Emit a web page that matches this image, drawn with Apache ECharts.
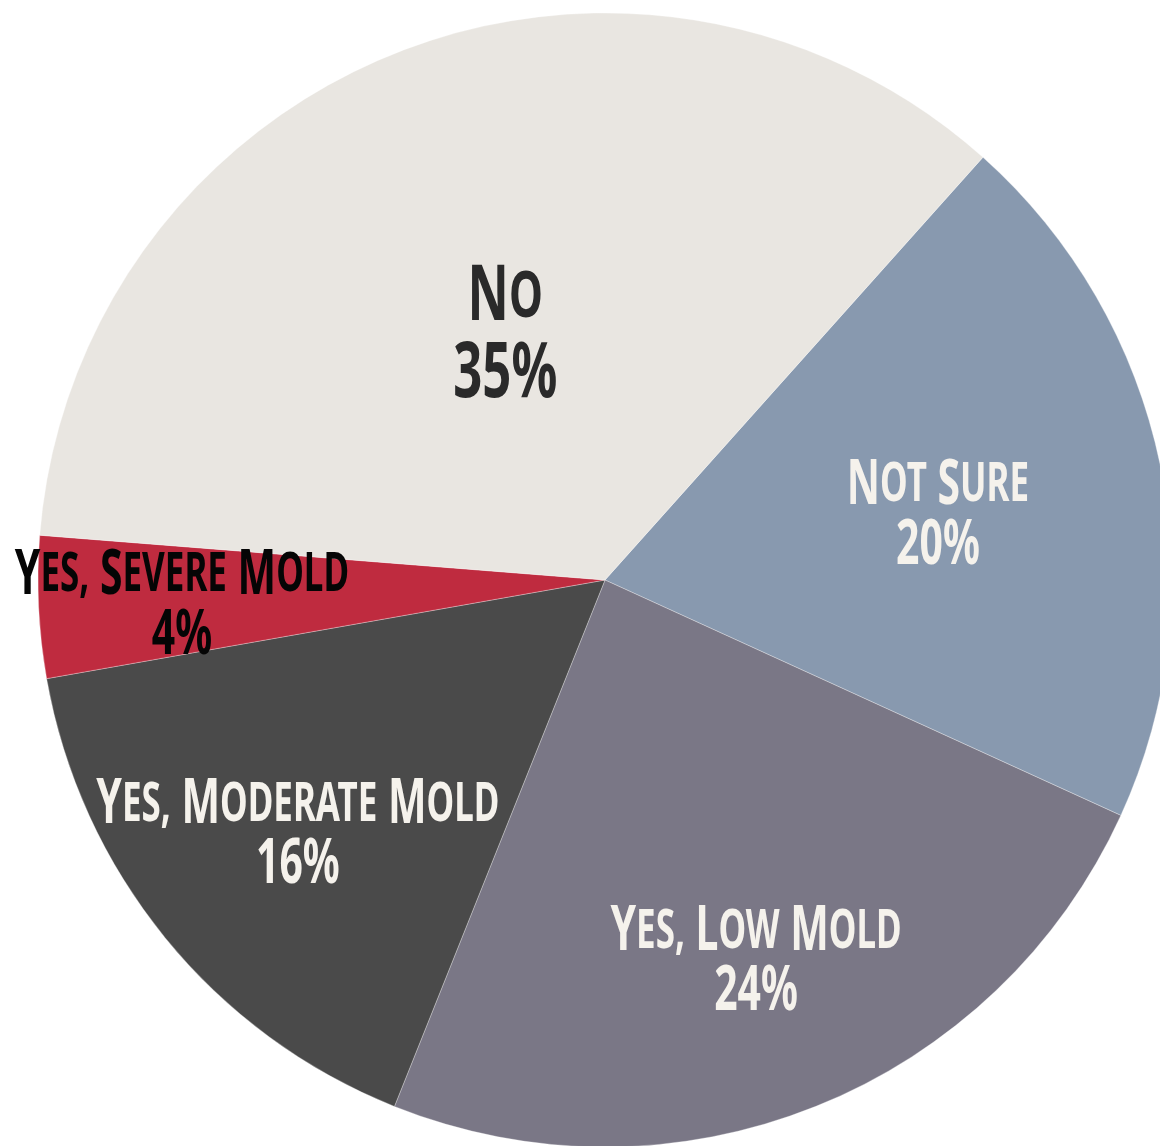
<!DOCTYPE html>
<html>
<head>
<meta charset="utf-8">
<script src="https://cdn.jsdelivr.net/npm/echarts@6/dist/echarts.min.js"></script>
<style>
    html, body { margin: 0; padding: 0; background: #fff; }
    #chart { width: 1160px; height: 1146px; }
</style>
</head>
<body>
<div id="chart"></div>
<script>
// 数据
const categories = ['Not Sure', 'Yes, Low Mold', 'Yes, Moderate Mold', 'Yes, Severe Mold', 'No'];
const shares = [20, 24, 16, 4, 35];
const sliceColors = ['#8899AF', '#7A7786', '#4A4A4A', '#BF2B3F', '#E9E6E1'];
const labelColors = ['#F5F2EC', '#F5F2EC', '#F5F2EC', '#050505', '#2A2A2A'];
// 标签到圆心的距离(占半径的比例)
const labelRadius = [0.6, 0.716, 0.698, 0.747, 0.473];

const FONT = '"Noto Sans", "DejaVu Sans Condensed", sans-serif';
const cx = 605, cy = 580, R = 567, START = 48.2;
const SQUEEZE = 0.66; // 窄体字效果

// 小型大写字母: 首字母大, 其余小
function smallCaps(text) {
    return text.split(' ').map(w =>
        '{a|' + w.charAt(0).toUpperCase() + '}' + (w.length > 1 ? '{b|' + w.slice(1).toUpperCase() + '}' : '')
    ).join('{a| }');
}

function richFor(i) {
    const big = i === 4 ? 77 : 62;
    const lh = i === 4 ? 77 : 60;
    const base = { fontFamily: FONT, fontWeight: 'bold', lineHeight: lh, fill: labelColors[i] };
    return {
        a: Object.assign({ fontSize: big }, base),
        b: Object.assign({ fontSize: Math.round(big * 0.85) }, base),
        c: Object.assign({ fontSize: big }, base)
    };
}

// 每块扇区中线角度 -> 标签位置
const total = shares.reduce((s, v) => s + v, 0);
let acc = 0;
const labels = categories.map((name, i) => {
    const mid = (START - (acc + shares[i] / 2) / total * 360) * Math.PI / 180;
    acc += shares[i];
    const r = labelRadius[i] * R;
    return {
        type: 'text',
        x: cx + r * Math.cos(mid),
        y: cy - r * Math.sin(mid),
        scaleX: SQUEEZE,
        z: 100,
        silent: true,
        style: {
            text: smallCaps(name) + '\n{c|' + shares[i] + '%}',
            x: 0,
            y: 6,
            align: 'center',
            verticalAlign: 'middle',
            rich: richFor(i)
        }
    };
});

const chart = echarts.init(document.getElementById('chart'));
chart.setOption({
    backgroundColor: '#ffffff',
    animation: false,
    graphic: labels,
    series: [{
        type: 'pie',
        center: [cx, cy],
        radius: R,
        startAngle: START,
        clockwise: true,
        itemStyle: { borderColor: 'rgba(255,255,255,0.5)', borderWidth: 0.6 },
        emphasis: { disabled: true },
        label: { show: false },
        labelLine: { show: false },
        data: categories.map((name, i) => ({
            name: name,
            value: shares[i],
            itemStyle: { color: sliceColors[i] }
        }))
    }]
});
window.addEventListener('resize', () => chart.resize());
</script>
</body>
</html>
